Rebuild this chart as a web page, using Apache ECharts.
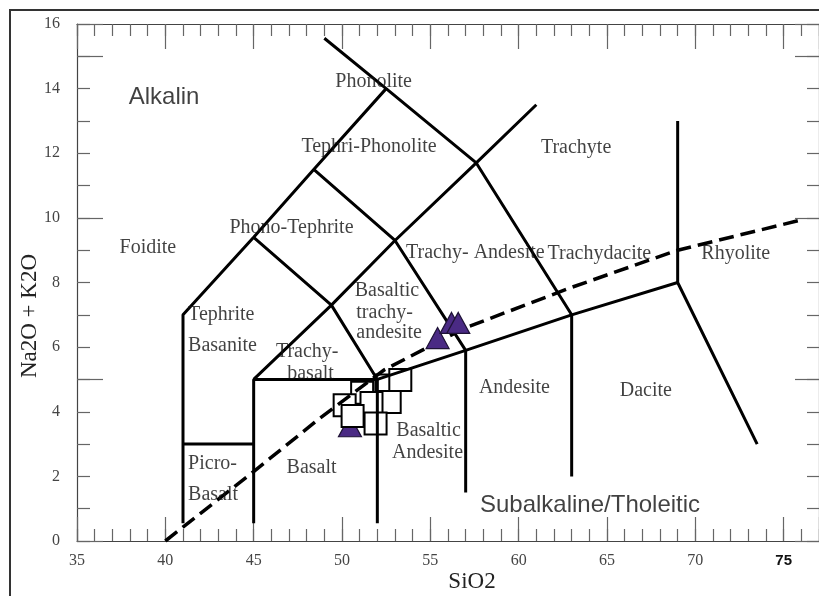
<!DOCTYPE html>
<html>
<head>
<meta charset="utf-8">
<title>TAS diagram</title>
<script src="https://cdn.jsdelivr.net/npm/echarts@6/dist/echarts.min.js"></script>
<style>
  html, body { margin: 0; padding: 0; background: #fff; }
  #chart { width: 819px; height: 596px; }
</style>
</head>
<body>
<div id="chart"></div>
<script>
// Axis tick labels
const siO2Ticks = [35, 40, 45, 50, 55, 60, 65, 70, 75];
const alkaliTicks = [0, 2, 4, 6, 8, 10, 12, 14, 16];

// Field boundaries of the total-alkali-silica classification (SiO2, Na2O+K2O)
const foiditeEdge = [[41, 0.55], [41, 7], [45, 9.4], [48.4, 11.5], [52.5, 14]];
const phonoliteEdge = [[49, 15.56], [52.5, 14], [57.6, 11.7], [63, 7]];
const picroTop = [[41, 3], [45, 3]];
const basaltTop = [[45, 0.55], [45, 5], [52, 5], [57, 5.9], [63, 7], [69, 8]];
const trachybasaltEdge = [[45, 5], [49.4, 7.3], [53, 9.3], [57.6, 11.7], [61, 13.5]];
const tephriteEdge = [[45, 9.4], [49.4, 7.3], [52, 5], [52, 0.55]];
const tephriPhonoEdge = [[48.4, 11.5], [53, 9.3], [57, 5.9], [57, 1.5]];
const andesiteEdge = [[63, 7], [63, 2]];
const rhyoliteEdge = [[69, 13], [69, 8], [73.5, 3]];
// Alkaline / subalkaline divide
const alkalineDivide = [[40, 0], [45, 2.15], [48.75, 3.8], [52.4, 5.3], [57, 6.6], [63, 7.85], [69, 9.0], [76.1, 9.95]];

// Samples
const squareSamples = [[52.51, 4.81], [53.3, 4.98], [52.7, 4.3], [51.14, 4.59], [51.67, 4.27], [50.15, 4.2], [50.6, 3.87], [51.9, 3.64]];
const triangleSamples = [[50.45, 3.55], [55.41, 6.28], [56.2, 6.75], [56.58, 6.75]];

// Field names, centred on [SiO2, alkali]
const fieldNames = [
  [51.79, 14.22, 'Phonolite'],
  [51.53, 12.2, 'Tephri-Phonolite'],
  [63.25, 12.18, 'Trachyte'],
  [47.14, 9.7, 'Phono-Tephrite'],
  [39.01, 9.06, 'Foidite'],
  [57.55, 8.93, 'Trachy- Andesite'],
  [64.57, 8.9, 'Trachydacite'],
  [72.29, 8.88, 'Rhyolite'],
  [48.03, 5.86, 'Trachy-'],
  [48.22, 5.19, 'basalt'],
  [48.28, 2.26, 'Basalt'],
  [54.9, 3.4, 'Basaltic'],
  [54.84, 2.74, 'Andesite'],
  [59.76, 4.75, 'Andesite'],
  [67.2, 4.64, 'Dacite']
];
// Field names anchored at their left edge
const fieldNamesLeft = [
  [41.29, 6.99, 'Tephrite'],
  [41.29, 6.05, 'Basanite'],
  [50.72, 7.74, 'Basaltic'],
  [50.81, 7.07, 'trachy-'],
  [50.81, 6.45, 'andesite'],
  [41.29, 2.38, 'Picro-'],
  [41.29, 1.42, 'Basalt']
];
// Series group names
const groupNames = [
  [39.93, 13.73, 'Alkalin'],
  [64.04, 1.09, 'Subalkaline/Tholeitic']
];

const SERIF = '"Liberation Serif", "Times New Roman", serif';
const SANS = '"Liberation Sans", Arial, sans-serif';

const chart = echarts.init(document.getElementById('chart'), null, { renderer: 'canvas' });

function axisPair(kind, position, shortLen, longLen, withLabels) {
  const isX = kind === 'x';
  const base = {
    type: 'value',
    min: isX ? 35 : 0,
    max: isX ? 77 : 16,
    position: position,
    splitLine: { show: false },
    axisLine: { show: true, onZero: false, lineStyle: { color: '#444', width: 1.2 } },
    axisTick: { show: true, inside: true, length: shortLen, lineStyle: { color: '#666', width: 1.2 } },
    axisLabel: { show: false },
    interval: 1
  };
  if (withLabels) {
    base.axisLabel = isX ? {
      show: true,
      customValues: siO2Ticks,
      margin: 12,
      formatter: function (v) { return v === 75 ? '{b|75}' : '{a|' + v + '}'; },
      rich: {
        a: { fontFamily: SERIF, fontSize: 16, color: '#444' },
        b: { fontFamily: SANS, fontSize: 15, fontWeight: 'bold', color: '#111' }
      }
    } : {
      show: true,
      customValues: alkaliTicks,
      margin: 17,
      fontFamily: SERIF, fontSize: 16, color: '#444'
    };
  }
  const major = {
    type: 'value',
    min: isX ? 35 : 0,
    max: isX ? 77 : 16,
    interval: 5,
    position: position,
    splitLine: { show: false },
    axisLine: { show: false, onZero: false },
    axisTick: { show: true, inside: true, length: longLen, lineStyle: { color: '#666', width: 1.2 } },
    axisLabel: { show: false }
  };
  return [base, major];
}

const xAxes = [].concat(axisPair('x', 'bottom', 12, 24, true), axisPair('x', 'top', 12, 25, false));
const yAxes = [].concat(axisPair('y', 'left', 13, 26, true), axisPair('y', 'right', 12, 24, false));

function boundary(points, dashed) {
  return {
    type: 'line',
    data: points,
    xAxisIndex: 0, yAxisIndex: 0,
    symbol: 'none',
    silent: true,
    z: 3,
    lineStyle: dashed
      ? { color: '#000', width: 3.5, type: [15, 7] }
      : { color: '#000', width: 3 }
  };
}

function textLayer(rows, align, family, size, color) {
  return {
    type: 'scatter',
    data: rows,
    xAxisIndex: 0, yAxisIndex: 0,
    symbolSize: 0,
    silent: true,
    z: 6,
    label: {
      show: true,
      position: [0, 0],
      align: align,
      verticalAlign: 'middle',
      formatter: function (p) { return p.value[2]; },
      fontFamily: family,
      fontSize: size,
      color: color
    }
  };
}

const triangleStyle = { color: '#4a2a84', borderColor: '#1e1236', borderWidth: 1.2, opacity: 1 };

chart.setOption({
  animation: false,
  backgroundColor: '#fff',
  grid: { left: 77, right: -1, top: 24, bottom: 55 },
  xAxis: xAxes,
  yAxis: yAxes,
  graphic: [
    { type: 'polyline', shape: { points: [[10, 700], [10, 10], [900, 10]] }, style: { stroke: '#333', lineWidth: 2, fill: null }, silent: true },
    { type: 'text', x: 30, y: 316, rotation: Math.PI / 2, style: { text: 'Na2O + K2O', font: '23px ' + SERIF, fill: '#222', align: 'center', verticalAlign: 'middle' }, silent: true },
    { type: 'text', x: 472, y: 582, style: { text: 'SiO2', font: '23px ' + SERIF, fill: '#222', align: 'center', verticalAlign: 'middle' }, silent: true }
  ],
  series: [
    {
      name: 'triangle-under',
      type: 'scatter',
      data: triangleSamples.slice(0, 1),
      symbol: 'triangle', symbolSize: [23, 21],
      itemStyle: triangleStyle,
      z: 1
    },
    {
      name: 'square',
      type: 'scatter',
      data: squareSamples,
      symbol: 'rect', symbolSize: 22,
      itemStyle: { color: '#fff', borderColor: '#000', borderWidth: 2, opacity: 1 },
      z: 2
    },
    boundary(foiditeEdge),
    boundary(phonoliteEdge),
    boundary(picroTop),
    boundary(basaltTop),
    boundary(trachybasaltEdge),
    boundary(tephriteEdge),
    boundary(tephriPhonoEdge),
    boundary(andesiteEdge),
    boundary(rhyoliteEdge),
    boundary(alkalineDivide, true),
    {
      name: 'triangle',
      type: 'scatter',
      data: triangleSamples.slice(1),
      symbol: 'triangle', symbolSize: [23, 21],
      itemStyle: triangleStyle,
      z: 4
    },
    textLayer(fieldNames, 'center', SERIF, 20, '#111'),
    textLayer(fieldNamesLeft, 'left', SERIF, 20, '#111'),
    textLayer(groupNames, 'center', SANS, 24, '#111')
  ]
});
</script>
</body>
</html>
